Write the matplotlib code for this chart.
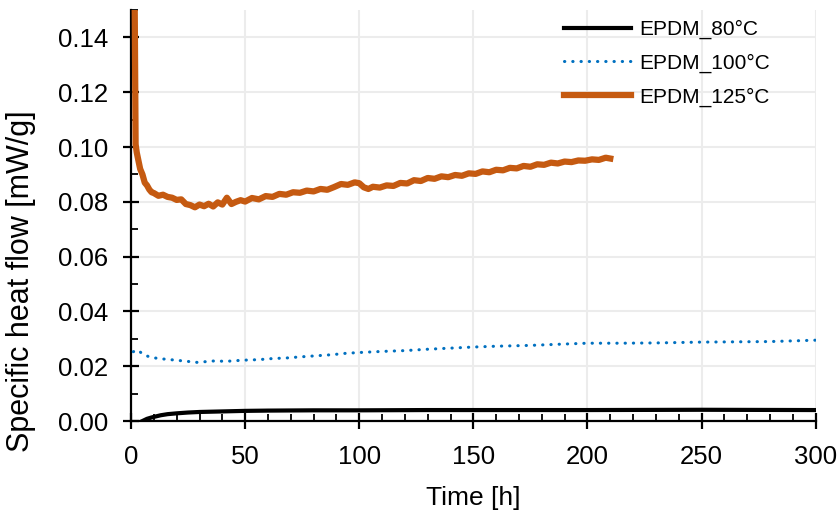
import matplotlib
matplotlib.use("Agg")
import matplotlib.pyplot as plt
from matplotlib.ticker import MultipleLocator, FormatStrFormatter

plt.rcParams['font.family'] = ['Liberation Sans', 'DejaVu Sans']

# EPDM at 80 C
t_80 = [5, 7, 9, 11, 13, 16, 20, 25, 30, 40, 50, 60, 80, 100, 130, 160, 200, 250, 300]
q_80 = [0.0, 0.0008, 0.0013, 0.0017, 0.0021, 0.0025, 0.0028, 0.0031, 0.0033, 0.0035,
        0.0037, 0.0038, 0.0039, 0.0039, 0.0040, 0.0040, 0.0040, 0.0041, 0.0040]

# EPDM at 100 C
t_100 = [1, 3, 5, 8, 12, 16, 22, 29, 36, 42, 49, 56, 62, 68, 74, 81, 88, 94,
         100, 110, 120, 130, 140, 150, 160, 175, 190, 200, 215, 230, 250, 265, 280, 300]
q_100 = [0.0253, 0.0259, 0.0245, 0.0234, 0.0228, 0.0225, 0.0220, 0.0214, 0.0219, 0.0218,
         0.0222, 0.0224, 0.0228, 0.0230, 0.0234, 0.0238, 0.0242, 0.0247,
         0.0250, 0.0254, 0.0257, 0.0262, 0.0266, 0.0270, 0.0273, 0.0276, 0.0281, 0.0284,
         0.0284, 0.0285, 0.0288, 0.0289, 0.0290, 0.0295]

# EPDM at 125 C
t_125 = [1.5, 2, 2.5, 3, 4, 5, 6, 7, 8, 9, 10, 12, 14, 16, 18, 20, 22, 24, 26, 28,
         30, 32, 34, 36, 38, 40, 42, 44, 46, 48, 50, 53, 56, 59, 62, 65, 68, 71, 74, 77,
         80, 83, 86, 89, 92, 95, 98, 100, 102, 104, 106, 109, 112, 115, 118, 121, 124, 127,
         130, 133, 136, 139, 142, 145, 148, 151, 154, 157, 160, 163, 166, 169, 172, 175,
         178, 181, 184, 187, 190, 193, 196, 199, 202, 205, 208, 210]
q_125 = [0.165, 0.101, 0.098, 0.096, 0.092, 0.090, 0.087, 0.086, 0.0845, 0.0835, 0.0832,
         0.0822, 0.0826, 0.0818, 0.0815, 0.0807, 0.0809, 0.0792, 0.0788, 0.0780,
         0.0790, 0.0784, 0.0793, 0.0783, 0.0798, 0.0790, 0.0815, 0.0792, 0.0800, 0.0806,
         0.0801, 0.0814, 0.0809, 0.0821, 0.0818, 0.0829, 0.0826, 0.0835, 0.0833, 0.0841,
         0.0838, 0.0847, 0.0844, 0.0854, 0.0865, 0.0862, 0.0871, 0.0868, 0.0853, 0.0847,
         0.0855, 0.0852, 0.0860, 0.0858, 0.0869, 0.0867, 0.0879, 0.0876,
         0.0887, 0.0884, 0.0893, 0.0890, 0.0898, 0.0895, 0.0904, 0.0902, 0.0911, 0.0908,
         0.0917, 0.0915, 0.0924, 0.0922, 0.0931, 0.0928,
         0.0937, 0.0935, 0.0943, 0.0940, 0.0947, 0.0945, 0.0951, 0.0950, 0.0955, 0.0953,
         0.0961, 0.0958]

fig = plt.figure(figsize=(8.4, 5.15), dpi=100)
ax = fig.add_axes([0.156, 0.1825, 0.815, 0.798])

ax.plot(t_80, q_80, color='black', lw=3, label='EPDM_80°C', zorder=3)
ax.plot(t_100, q_100, color='#0070C0', lw=2.2, linestyle=(0, (0.1, 2.6)),
        dash_capstyle='round', label='EPDM_100°C', zorder=3)
ax.plot(t_125, q_125, color='#C55A11', lw=4.5, label='EPDM_125°C', zorder=3)

ax.set_xlim(0, 300)
ax.set_ylim(0, 0.15)
ax.xaxis.set_major_locator(MultipleLocator(50))
ax.xaxis.set_minor_locator(MultipleLocator(10))
ax.yaxis.set_major_locator(MultipleLocator(0.02))
ax.yaxis.set_minor_locator(MultipleLocator(0.01))
ax.yaxis.set_major_formatter(FormatStrFormatter('%.2f'))

ax.grid(True, which='major', color='#ececec', lw=1.5, zorder=0)
ax.set_axisbelow(True)

for side in ['top', 'right']:
    ax.spines[side].set_visible(False)
for side in ['left', 'bottom']:
    ax.spines[side].set_linewidth(1.6)

ax.tick_params(which='major', direction='inout', length=12, width=1.6, labelsize=18.5)
ax.tick_params(which='minor', direction='in', length=5, width=1.3)
ax.tick_params(axis='y', which='major', pad=10.5)
ax.tick_params(axis='x', which='major', pad=11.5)

ax.set_xlabel('Time [h]', fontsize=19, labelpad=12)
ax.set_ylabel('Specific heat flow [mW/g]', fontsize=22)
ax.yaxis.set_label_coords(-0.139, 0.34)

ax.legend(loc='upper right', bbox_to_anchor=(0.961, 1.022), frameon=False, fontsize=15,
          handlelength=3.2, labelspacing=0.7, handletextpad=0.4)

plt.savefig('out.png', dpi=100)
